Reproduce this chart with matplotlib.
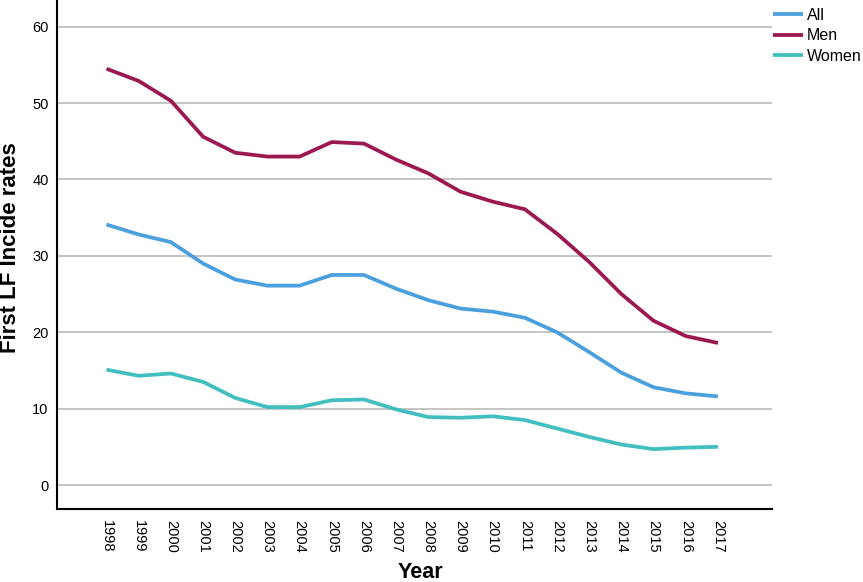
import numpy as np
import matplotlib
matplotlib.use("Agg")
import matplotlib.pyplot as plt

plt.rcParams['font.family'] = ['Liberation Sans', 'DejaVu Sans']

years = list(range(1998, 2018))
all_rates = [34.1, 32.8, 31.8, 29.0, 26.9, 26.1, 26.1, 27.5, 27.5, 25.7,
             24.2, 23.1, 22.7, 21.9, 20.0, 17.4, 14.7, 12.8, 12.0, 11.6]
men_rates = [54.5, 52.9, 50.3, 45.6, 43.5, 43.0, 43.0, 44.9, 44.7, 42.6,
             40.8, 38.4, 37.1, 36.1, 32.9, 29.2, 25.0, 21.5, 19.5, 18.6]
women_rates = [15.1, 14.3, 14.6, 13.5, 11.4, 10.2, 10.2, 11.1, 11.2, 9.9,
               8.9, 8.8, 9.0, 8.5, 7.4, 6.3, 5.3, 4.7, 4.9, 5.0]
series_names = ["All", "Men", "Women"]
colors = ["#4a9fde", "#9c1850", "#40bec0"]

fig = plt.figure(figsize=(8.63, 5.82), dpi=100)
ax = fig.add_axes([57/863, 1 - 509/582, (772 - 57)/863, 509/582])

for vals, name, c in zip([all_rates, men_rates, women_rates], series_names, colors):
    ax.plot(years, vals, color=c, lw=2.7, label=name, solid_capstyle='butt')

ax.set_xlim(1996.46, 2018.68)
ax.set_ylim(-3.14, 63.5)
ax.set_yticks([0, 10, 20, 30, 40, 50, 60])
ax.set_xticks(years)
ax.set_xticklabels([str(y) for y in years], rotation=270, fontsize=10)
ax.tick_params(axis='both', length=0, labelsize=10.5)
ax.tick_params(axis='y', pad=6)
ax.tick_params(axis='x', pad=8)
ax.yaxis.grid(True, color='#b4b4b4', lw=1.1)
ax.set_axisbelow(True)
for s in ['top', 'right']:
    ax.spines[s].set_visible(False)
for s in ['left', 'bottom']:
    ax.spines[s].set_linewidth(1.5)

fig.text(420/863, 1 - 572/582, "Year", fontsize=15.5, fontweight='bold', ha='center', va='center')
fig.text(11/863, 1 - 248/582, "First LF Incide rates", fontsize=16, fontweight='bold',
         rotation=90, ha='center', va='center')

fig.legend(loc='upper left', bbox_to_anchor=(773/863, 1 - 8/582), frameon=False, fontsize=11.5,
           handlelength=1.9, handletextpad=0.2, labelspacing=0.33, borderaxespad=0, borderpad=0)

fig.savefig("out.png", dpi=100)
